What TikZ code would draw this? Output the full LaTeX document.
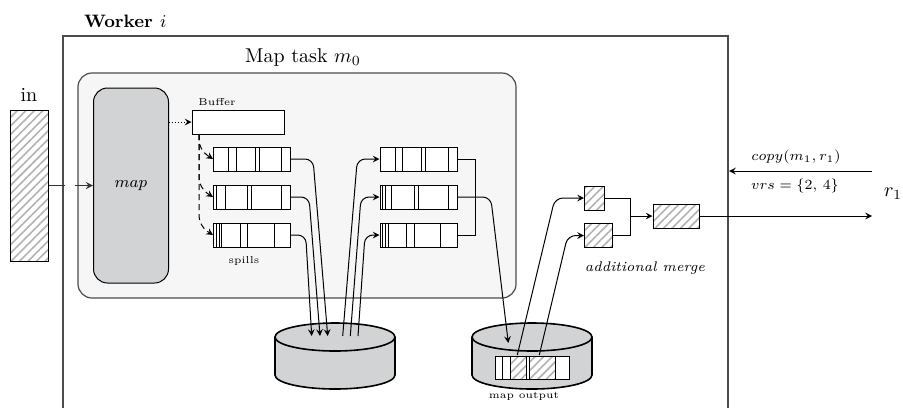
\documentclass[tikz,border=0pt]{standalone}
\usetikzlibrary{patterns.meta}
\definecolor{mapgray}{HTML}{D1D3D4}
\definecolor{taskgray}{HTML}{F6F6F6}
\tikzset{
  hatched/.style={draw,line width=.5pt,pattern={Lines[angle=45,distance=3pt,line width=.8pt]},pattern color=black!30,inner sep=0pt},
  queue/.style={draw,fill=white,line width=.5pt,minimum width=38.5pt,minimum height=12pt,inner sep=0pt},
  link/.style={->,line width=.5pt,rounded corners=4pt},
  disk/.style={draw=black,fill=mapgray,line width=.8pt}
}
\begin{document}
\begin{tikzpicture}[>=stealth,x=.5pt,y=-.5pt]
\useasboundingbox(0,0)rectangle(903,408);
\node[anchor=west,font=\small\bfseries](worker)at(77,21){Worker $i$};
\draw[line width=.6pt,black!70](63,408)--(63,36)--(728,36)--(728,408);
\node[draw=black!70,fill=taskgray,line width=.6pt,rounded corners=7pt,minimum width=219pt,minimum height=112.5pt,inner sep=0pt](task)at(297,185.5){};
\node(tasklabel)at(303,57){Map task $m_0$};
\node[hatched,minimum width=19pt,minimum height=75.5pt](in)at(29,185.5){};
\node(inlabel)at(29,95){in};
\node[draw,fill=mapgray,line width=.5pt,rounded corners=7pt,minimum width=37.5pt,minimum height=97.5pt,inner sep=0pt,font=\footnotesize](map)at(131,185.5){$map$};
\node[draw,fill=white,line width=.5pt,minimum width=46pt,minimum height=12pt,inner sep=0pt](buffer)at(238,122){};
\node[font=\tiny](bufferlabel)at(217,102.5){Buffer};
\node[font=\tiny](spills)at(244,261){spills};
\node[queue](qa)at(252,159){};
\node[queue](qb)at(252,197){};
\node[queue](qc)at(252,235){};
\node[queue](qd)at(418.5,159){};
\node[queue](qe)at(418.5,197){};
\node[queue](qf)at(418.5,235){};
\foreach \x in {228.7,236,255,259.5,281.7}\draw[line width=.5pt](\x,147)--(\x,171);
\foreach \x in {216.7,225,247.7,251.7,281.7}\draw[line width=.5pt](\x,185)--(\x,209);
\foreach \x in {216.7,219.3,221.7,240,247.7,274.3}\draw[line width=.5pt](\x,223)--(\x,247);
\foreach \x in {395.3,402.7,421.7,425.3,448.3}\draw[line width=.5pt](\x,147)--(\x,171);
\foreach \x in {382.7,385,391.3,414.3,418.3,448.3}\draw[line width=.5pt](\x,185)--(\x,209);
\foreach \x in {382.7,385,388.3,406.7,414.3,440.7}\draw[line width=.5pt](\x,223)--(\x,247);
\foreach \c in {335,532}{
\draw[disk](\c-60,337)--(\c-60,375)arc[start angle=180,end angle=360,x radius=30pt,y radius=7pt]--(\c+60,337);
\draw[disk](\c,337)ellipse[x radius=30pt,y radius=7pt];
}
\node[draw,fill=white,line width=.5pt,minimum width=37pt,minimum height=11.5pt,inner sep=0pt](output)at(532,367.5){};
\node[hatched,minimum width=8pt,minimum height=11.5pt](parta)at(518,367.5){};
\node[hatched,minimum width=13pt,minimum height=11.5pt](partb)at(542.5,367.5){};
\draw[line width=.5pt](502.7,356)--(502.7,379);
\node[font=\tiny](outputlabel)at(524,396.5){map output};
\node[hatched,minimum width=10pt,minimum height=12pt](ma)at(594.5,198){};
\node[hatched,minimum width=14pt,minimum height=12pt](mb)at(598.5,235.5){};
\node[hatched,minimum width=23pt,minimum height=12pt](mc)at(676,216){};
\node[font=\scriptsize\itshape](mergelabel)at(645,268){additional merge};
\coordinate(dbufa)at(199,134);
\coordinate(diska)at(311.7,336);
\coordinate(diskb)at(320,336);
\coordinate(diskc)at(327.7,336);
\coordinate(diskd)at(342.7,336);
\coordinate(diske)at(350.3,336);
\coordinate(diskf)at(358,336);
\coordinate(diskg)at(508.3,343);
\coordinate(outa)at(517.3,355);
\coordinate(outb)at(539.3,355);
\coordinate(junction)at(630,216);
\coordinate(workerin)at(729,171);
\coordinate(reducerin)at(872,171);
\coordinate(reducerout)at(872,216);
\draw[->,line width=.6pt,dashed,dash pattern=on 8pt off 5pt,black!80](in)--(map);
\draw[->,line width=.5pt,densely dotted](map.east|-buffer)--(buffer);
\draw[link,densely dashed,rounded corners=5pt](dbufa)--(199,150)--(qa.west);
\draw[link,densely dashed,rounded corners=5pt](dbufa)--(199,188)--(qb.west);
\draw[link,densely dashed,rounded corners=5pt](dbufa)--(199,226)--(qc.west);
\draw[link](qa.east)--(313,159)--(diskc);
\draw[link](qb.east)--(309,197)--(diskb);
\draw[link](qc.east)--(305.7,235)--(diska);
\draw[link](diskd)--(357.3,159)--(qd.west);
\draw[link](diske)--(361,197)--(qe.west);
\draw[link](diskf)--(365,235)--(qf.west);
\draw[line width=.5pt](qd.east)-|(475,235)--(qf.east);
\draw[link](qe.east)--(490.7,197)--(diskg);
\draw[link](outa)--(555,198)--(ma.west);
\draw[link](outb)--(567.7,235.5)--(mb.west);
\draw[line width=.5pt](ma.east)-|(junction)|-(mb.east);
\draw[->,line width=.5pt](junction)--(mc.west);
\draw[->,line width=.5pt](mc.east)--(reducerout);
\draw[->,line width=.5pt](reducerin)--(workerin);
\node[font=\scriptsize](copylabel)at(796,157){$copy(m_1,r_1)$};
\node[font=\scriptsize](vrslabel)at(795,186){$vrs=\{2,\,4\}$};
\node(rlabel)at(893,194){$r_1$};
\end{tikzpicture}
\end{document}
